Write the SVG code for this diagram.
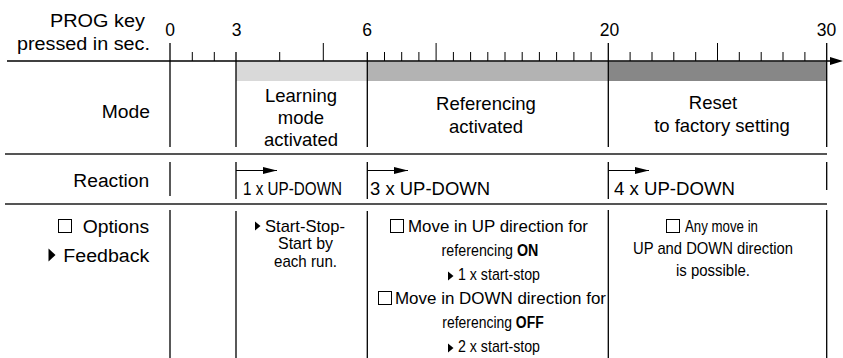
<svg xmlns="http://www.w3.org/2000/svg" width="843" height="358" viewBox="0 0 843 358">
<style>
text{font-family:"Liberation Sans",Arial,sans-serif;fill:#000}
.lab{font-size:18px}
.num{font-size:17.5px;text-anchor:middle}
.mode{font-size:18.5px;text-anchor:middle}
.rx{font-size:18px}
.opt{font-size:17px}
.c{text-anchor:middle}
.b{font-weight:bold}
.ax{stroke:#000;stroke-width:1.5;fill:none}
.tk{stroke:#000;stroke-width:1;fill:none}
.col{stroke:#000;stroke-width:1.3;fill:none}
.row{stroke:#555;stroke-width:2;fill:none}
.box{fill:#fff;stroke:#000;stroke-width:1}
</style>
<defs>
<marker id="ah" viewBox="0 0 14 7" refX="14" refY="3.5" markerWidth="14" markerHeight="7" markerUnits="userSpaceOnUse" orient="auto"><path d="M0,0 L14,3.5 L0,7 Z" fill="#000"/></marker>
</defs>
<g id="bars">
<rect x="236" y="61.5" width="131.3" height="19.5" fill="#d9d9d9"/>
<rect x="367.3" y="61.5" width="241" height="19.5" fill="#b3b3b3"/>
<rect x="608.3" y="61.5" width="218.4" height="19.5" fill="#878787"/>
</g>
<g id="axis">
<line class="ax" x1="7" y1="61" x2="831" y2="61"/>
<path d="M830,57 L843,61 L830,65 Z" fill="#000"/>
<path class="tk" d="M192.3,52V61M214.3,52V61M279.7,52V61M323.3,43V61M384.5,52V61M401.7,52V61M418.9,52V61M436.1,43V61M453.4,52V61M470.6,52V61M487.8,52V61M505,52V61M522.2,52V61M539.4,52V61M556.6,52V61M573.9,52V61M591.1,52V61M630.1,52V61M652,52V61M673.8,52V61M695.7,52V61M717.5,43V61M739.3,52V61M761.2,52V61M783,52V61M804.9,52V61"/>
<text class="num" x="170" y="36">0</text>
<text class="num" x="236.5" y="36">3</text>
<text class="num" x="367" y="36">6</text>
<text class="num" x="609.5" y="36">20</text>
<text class="num" x="826.5" y="36">30</text>
<text class="lab" x="50" y="27" textLength="95" lengthAdjust="spacingAndGlyphs">PROG key</text>
<text class="lab" x="17" y="50" textLength="133" lengthAdjust="spacingAndGlyphs">pressed in sec.</text>
</g>
<g id="grid">
<path class="col" d="M170,43V147M236,52V147M367.3,52V147M608.3,43V147M826.7,43V147"/>
<path class="col" d="M170,162V196M236,162V199M367.3,162V199M608.3,162V199M826.7,162V190"/>
<path class="col" d="M170,210V358M236,211V358M367.3,211V358M608.3,210V358M826.7,210V358"/>
<line class="row" x1="5" y1="154" x2="827" y2="154"/>
<line class="row" x1="5" y1="204" x2="827" y2="204"/>
</g>
<g id="labels">
<text class="lab" x="101.7" y="118" textLength="48.3" lengthAdjust="spacingAndGlyphs">Mode</text>
<text class="lab" x="73.3" y="187" textLength="76" lengthAdjust="spacingAndGlyphs">Reaction</text>
<rect class="box" x="58.5" y="219.5" width="13" height="13"/>
<text class="lab" x="82.7" y="233" textLength="66.6" lengthAdjust="spacingAndGlyphs">Options</text>
<path d="M48.5,248.5 L55.5,255 L48.5,261.5 Z" fill="#000"/>
<text class="lab" x="63.3" y="261.5" textLength="86" lengthAdjust="spacingAndGlyphs">Feedback</text>
</g>
<g id="learning">
<text class="mode" x="301" y="102">Learning</text>
<text class="mode" x="301" y="124">mode</text>
<text class="mode" x="301" y="146">activated</text>
<text class="rx" x="243" y="195" textLength="99" lengthAdjust="spacingAndGlyphs">1 x UP-DOWN</text>
<path d="M255,221.5 L260.5,226 L255,230.5 Z" fill="#000"/>
<text class="opt" x="265" y="231.5" textLength="80" lengthAdjust="spacingAndGlyphs">Start-Stop-</text>
<text class="opt c" x="305.5" y="249" textLength="55" lengthAdjust="spacingAndGlyphs">Start by</text>
<text class="opt c" x="305.5" y="266.5" textLength="63" lengthAdjust="spacingAndGlyphs">each run.</text>
</g>
<g id="referencing">
<text class="mode" x="486" y="110">Referencing</text>
<text class="mode" x="486" y="133">activated</text>
<text class="rx" x="370" y="195" textLength="120" lengthAdjust="spacingAndGlyphs">3 x UP-DOWN</text>
<rect class="box" x="390.5" y="219.5" width="13" height="13"/>
<text class="opt" x="408" y="232" textLength="180" lengthAdjust="spacingAndGlyphs">Move in UP direction for</text>
<text class="opt c" transform="translate(490,256) scale(0.84,1)">referencing <tspan class="b">ON</tspan></text>
<path d="M448,271.5 L453.5,276 L448,280.5 Z" fill="#000"/>
<text class="opt" x="458" y="280" textLength="82" lengthAdjust="spacingAndGlyphs">1 x start-stop</text>
<rect class="box" x="378.5" y="291.5" width="13" height="13"/>
<text class="opt" x="395" y="304" textLength="211" lengthAdjust="spacingAndGlyphs">Move in DOWN direction for</text>
<text class="opt c" transform="translate(493,328) scale(0.82,1)">referencing <tspan class="b">OFF</tspan></text>
<path d="M448,343.5 L453.5,348 L448,352.5 Z" fill="#000"/>
<text class="opt" x="458" y="352" textLength="82" lengthAdjust="spacingAndGlyphs">2 x start-stop</text>
</g>
<g id="reset">
<text class="mode" x="713" y="109">Reset</text>
<text class="mode" x="722" y="132">to factory setting</text>
<text class="rx" x="614" y="195" textLength="121" lengthAdjust="spacingAndGlyphs">4 x UP-DOWN</text>
<rect class="box" x="666.5" y="219.5" width="13" height="13"/>
<text class="opt" x="685" y="232" textLength="73" lengthAdjust="spacingAndGlyphs">Any move in</text>
<text class="opt c" x="713" y="254" textLength="160" lengthAdjust="spacingAndGlyphs">UP and DOWN direction</text>
<text class="opt c" x="713" y="276" textLength="74" lengthAdjust="spacingAndGlyphs">is possible.</text>
</g>
<g id="connectors">
<line class="tk" x1="236" y1="170.5" x2="277" y2="170.5" marker-end="url(#ah)"/>
<line class="tk" x1="367.3" y1="170.5" x2="408" y2="170.5" marker-end="url(#ah)"/>
<line class="tk" x1="608.3" y1="170.5" x2="649" y2="170.5" marker-end="url(#ah)"/>
</g>
</svg>
